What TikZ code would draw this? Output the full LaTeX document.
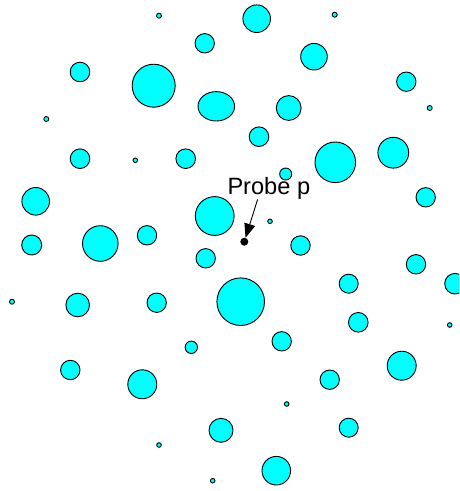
\documentclass[tikz,border=0pt]{standalone}
\usepackage{fontspec}
\usepackage{xcolor}
\usepackage{tikz}
\usetikzlibrary{arrows.meta}
\newfontfamily\probefont{Liberation Sans}
\definecolor{diskcyan}{RGB}{0,255,255}
\tikzset{
  disk/.style={draw=black,fill=diskcyan,line width=0.9pt},
  probelabel/.style={font=\probefont\fontsize{23.6}{28}\selectfont,inner sep=0pt,anchor=base west},
  probedot/.style={circle,fill=black,minimum size=8pt,inner sep=0pt},
  probearr/.style={-{Triangle[length=14pt,width=11pt]},line width=0.9pt}
}
\begin{document}
\begin{tikzpicture}[x=1pt,y=-1pt]
\clip (0,0) rectangle (459,491);
\foreach \cx/\cy/\r in {159/15.7/2.5, 204.7/43.3/9.7, 80/72/9.8, 153.7/85.7/21.5,
  46.3/119/2.5, 80/158.7/9.8, 135.3/160.3/2.3, 185.7/158.7/9.8,
  35.7/201.3/13.8, 214.7/216/19.4, 31.7/245/10, 100.3/243.5/17.8,
  147/235.3/9.7, 256.7/18.7/13.8, 334.7/14.7/2.5, 314/56.7/13.3,
  406.3/81.7/9.7, 429.7/108/2.5, 288.7/108/12.4, 259/136.7/9.8,
  335.3/162.3/20.3, 393.3/152.7/15.4, 285.7/174/6, 425.7/197.3/9.7,
  270/221.3/2.3, 300.5/245.5/9.7, 205.7/258.3/9.7, 12/301.7/2.5,
  77.7/305/11.8, 156.7/302.7/9.7, 240.7/301.7/23.8, 191.3/347.3/6.2,
  70.3/370/9.7, 142.3/384.3/14.5, 221/430.3/12, 159/445/2.3,
  212.7/480.7/2.3, 416/264.3/9.7, 348.7/283.7/9.5, 455/283.7/10.3,
  358.3/322.3/9.8, 449.7/325/2.3, 281.7/341.3/9.7, 401.7/365.7/14.5,
  329.7/379.7/9.7, 286.7/404/2.3, 348.7/427.7/9.5, 276.3/470.7/14.3}
  \draw[disk] (\cx,\cy) circle[radius=\r pt];
\draw[disk] (216.3,106.3) ellipse[x radius=18.3pt,y radius=14.7pt];

\node[probelabel] (probe) at (227.3,194.3) {Probe p};
\node[probedot] (p) at (244.3,241.7) {};
\draw[probearr] (probe.225) -- (p);
\end{tikzpicture}
\end{document}
